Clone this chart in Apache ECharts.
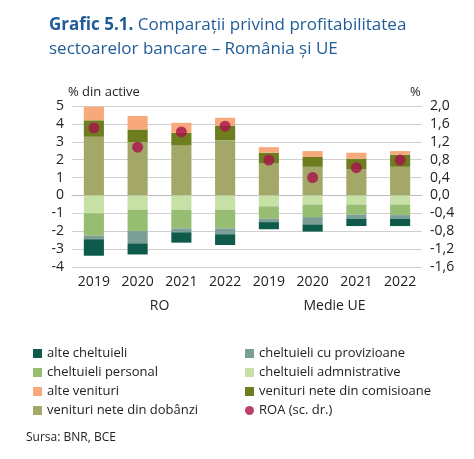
<!DOCTYPE html><html><head><meta charset="utf-8"><script src="https://cdn.jsdelivr.net/npm/echarts@6/dist/echarts.min.js"></script>
<style>body{margin:0}#c{width:474px;height:459px}</style></head><body><div id="c"></div><script>
const years=['2019','2020','2021','2022','2019','2020','2021','2022'];
const groups=['RO','Medie UE'];
const dobanzi=[3.28,2.98,2.79,3.09,1.78,1.6,1.47,1.6];
const comision=[0.92,0.71,0.71,0.82,0.61,0.55,0.59,0.68];
const alteVen=[0.76,0.75,0.56,0.43,0.31,0.33,0.33,0.2];
const admin=[-1.0,-0.8,-0.8,-0.8,-0.61,-0.51,-0.51,-0.51];
const personal=[-1.25,-1.19,-1.04,-1.04,-0.69,-0.7,-0.56,-0.59];
const proviz=[-0.2,-0.69,-0.22,-0.33,-0.19,-0.41,-0.23,-0.2];
const alteCh=[-0.92,-0.62,-0.58,-0.6,-0.4,-0.4,-0.41,-0.41];
const roa=[1.51,1.08,1.42,1.55,0.79,0.4,0.62,0.79];
const F='"Open Sans", Lato, sans-serif';
const bar=(name,data,color)=>({name,type:'bar',stack:'s',data,barWidth:'46%',itemStyle:{color}});
const leg=(names,left,top)=>({data:names,left,top,orient:'vertical',itemGap:6,itemWidth:9,itemHeight:9,textStyle:{fontSize:13,fontFamily:F,color:'#222'}});
const ch=echarts.init(document.getElementById('c'));
ch.setOption({
title:{text:'{b|Grafic 5.1.} Comparații privind profitabilitatea\nsectoarelor bancare – România și UE',left:44,top:8,textStyle:{rich:{b:{fontWeight:'bold',fontSize:17,fontFamily:F,color:'#1F5C99'}},fontSize:17,fontWeight:'normal',fontFamily:F,color:'#1F5C99',lineHeight:24}},
legend:[leg([{name:'alte cheltuieli',icon:'rect'},{name:'cheltuieli personal',icon:'rect'},{name:'alte venituri',icon:'rect'},{name:'venituri nete din dobânzi',icon:'rect'}],28,342),
leg([{name:'cheltuieli cu provizioane',icon:'rect'},{name:'cheltuieli admnistrative',icon:'rect'},{name:'venituri nete din comisioane',icon:'rect'},{name:'ROA (sc. dr.)',icon:'circle'}],240,342)],
graphic:[{type:'text',left:26,top:432,style:{text:'Sursa: BNR, BCE',fontSize:12,fontFamily:F,fill:'#222'}},
{type:'text',left:68,top:86,style:{text:'% din active',fontSize:13,fontFamily:F,fill:'#222'}},
{type:'text',left:410,top:86,style:{text:'%',fontSize:13,fontFamily:F,fill:'#222'}}],
grid:{left:72,right:52,top:106,bottom:192},
xAxis:[{type:'category',data:years,axisLine:{lineStyle:{color:'#bbb'}},axisTick:{length:22,lineStyle:{color:'#bbb'}},axisLabel:{fontSize:14,fontFamily:F,color:'#222',margin:8}},
{type:'category',data:groups,position:'bottom',offset:0,axisLine:{show:false},axisTick:{length:46,lineStyle:{color:'#bbb'}},axisLabel:{fontSize:14,fontFamily:F,color:'#222',margin:32}}],
yAxis:[{type:'value',min:-4,max:5,interval:1,axisLabel:{fontSize:14,fontFamily:F,color:'#222'},splitLine:{lineStyle:{color:'#d0d0d0'}}},
{type:'value',min:-1.6,max:2.0,interval:0.4,axisLabel:{fontSize:14,fontFamily:F,color:'#222',formatter:v=>v.toFixed(1).replace('.',',')},splitLine:{show:false}}],
series:[bar('venituri nete din dobânzi',dobanzi,'#A3A768'),bar('venituri nete din comisioane',comision,'#6E7E1E'),bar('alte venituri',alteVen,'#F7A97C'),
bar('cheltuieli admnistrative',admin,'#C6E0A6'),bar('cheltuieli personal',personal,'#97BD72'),bar('cheltuieli cu provizioane',proviz,'#7B9F95'),bar('alte cheltuieli',alteCh,'#0E5B4B'),
{name:'ROA (sc. dr.)',type:'scatter',yAxisIndex:1,data:roa,symbolSize:11,itemStyle:{color:'#A8124A'},z:5}]
});
</script></body></html>
